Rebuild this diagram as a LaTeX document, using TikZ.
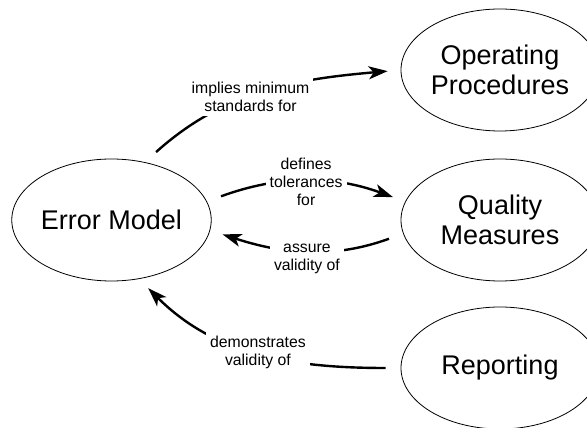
\documentclass[tikz,border=0pt]{standalone}
\usepackage{fontspec}
\setmainfont{Liberation Sans}
\usetikzlibrary{arrows.meta,shapes.geometric}
\begin{document}
\begin{tikzpicture}[x=1pt,y=1pt,
        bubble/.style={draw,ellipse,line width=0.8pt,inner sep=0pt,
            minimum width=198pt,minimum height=122pt,align=center,
            font=\fontsize{27}{30}\selectfont},
        link/.style={line width=2.4pt,-{Stealth[length=19pt,width=13pt,inset=5pt]},
            shorten <=15pt,shorten >=13pt},
        lbl/.style={fill=white,align=center,inner sep=4pt,
            font=\fontsize{15.8}{18}\selectfont}]
            \useasboundingbox (0,0) rectangle (587,428);
            \clip (0,0) rectangle (587,428);
            \node[bubble] (err) at (111.5,208) {Error Model};
            \node[bubble] (op) at (500,358) {Operating\\Procedures};
            \node[bubble] (qm) at (500,208) {Quality\\Measures};
            \node[bubble] (rep) at (500,60) {Reporting};
            \draw[link] (err.60) to[out=42,in=185] node[lbl,pos=0.45]{implies minimum\\standards for} (op.180);
            \draw[link] (err.11) to[out=20,in=160] node[lbl]{defines\\tolerances\\for} (qm.169);
            \draw[link] (qm.188) to[out=200,in=-18] node[lbl,yshift=-8pt]{assure\\validity of} (err.-6);
            \draw[link] (rep.180) to[out=180,in=-45] node[lbl]{demonstrates\\validity of} (err.-65);
        \end{tikzpicture}
\end{document}
